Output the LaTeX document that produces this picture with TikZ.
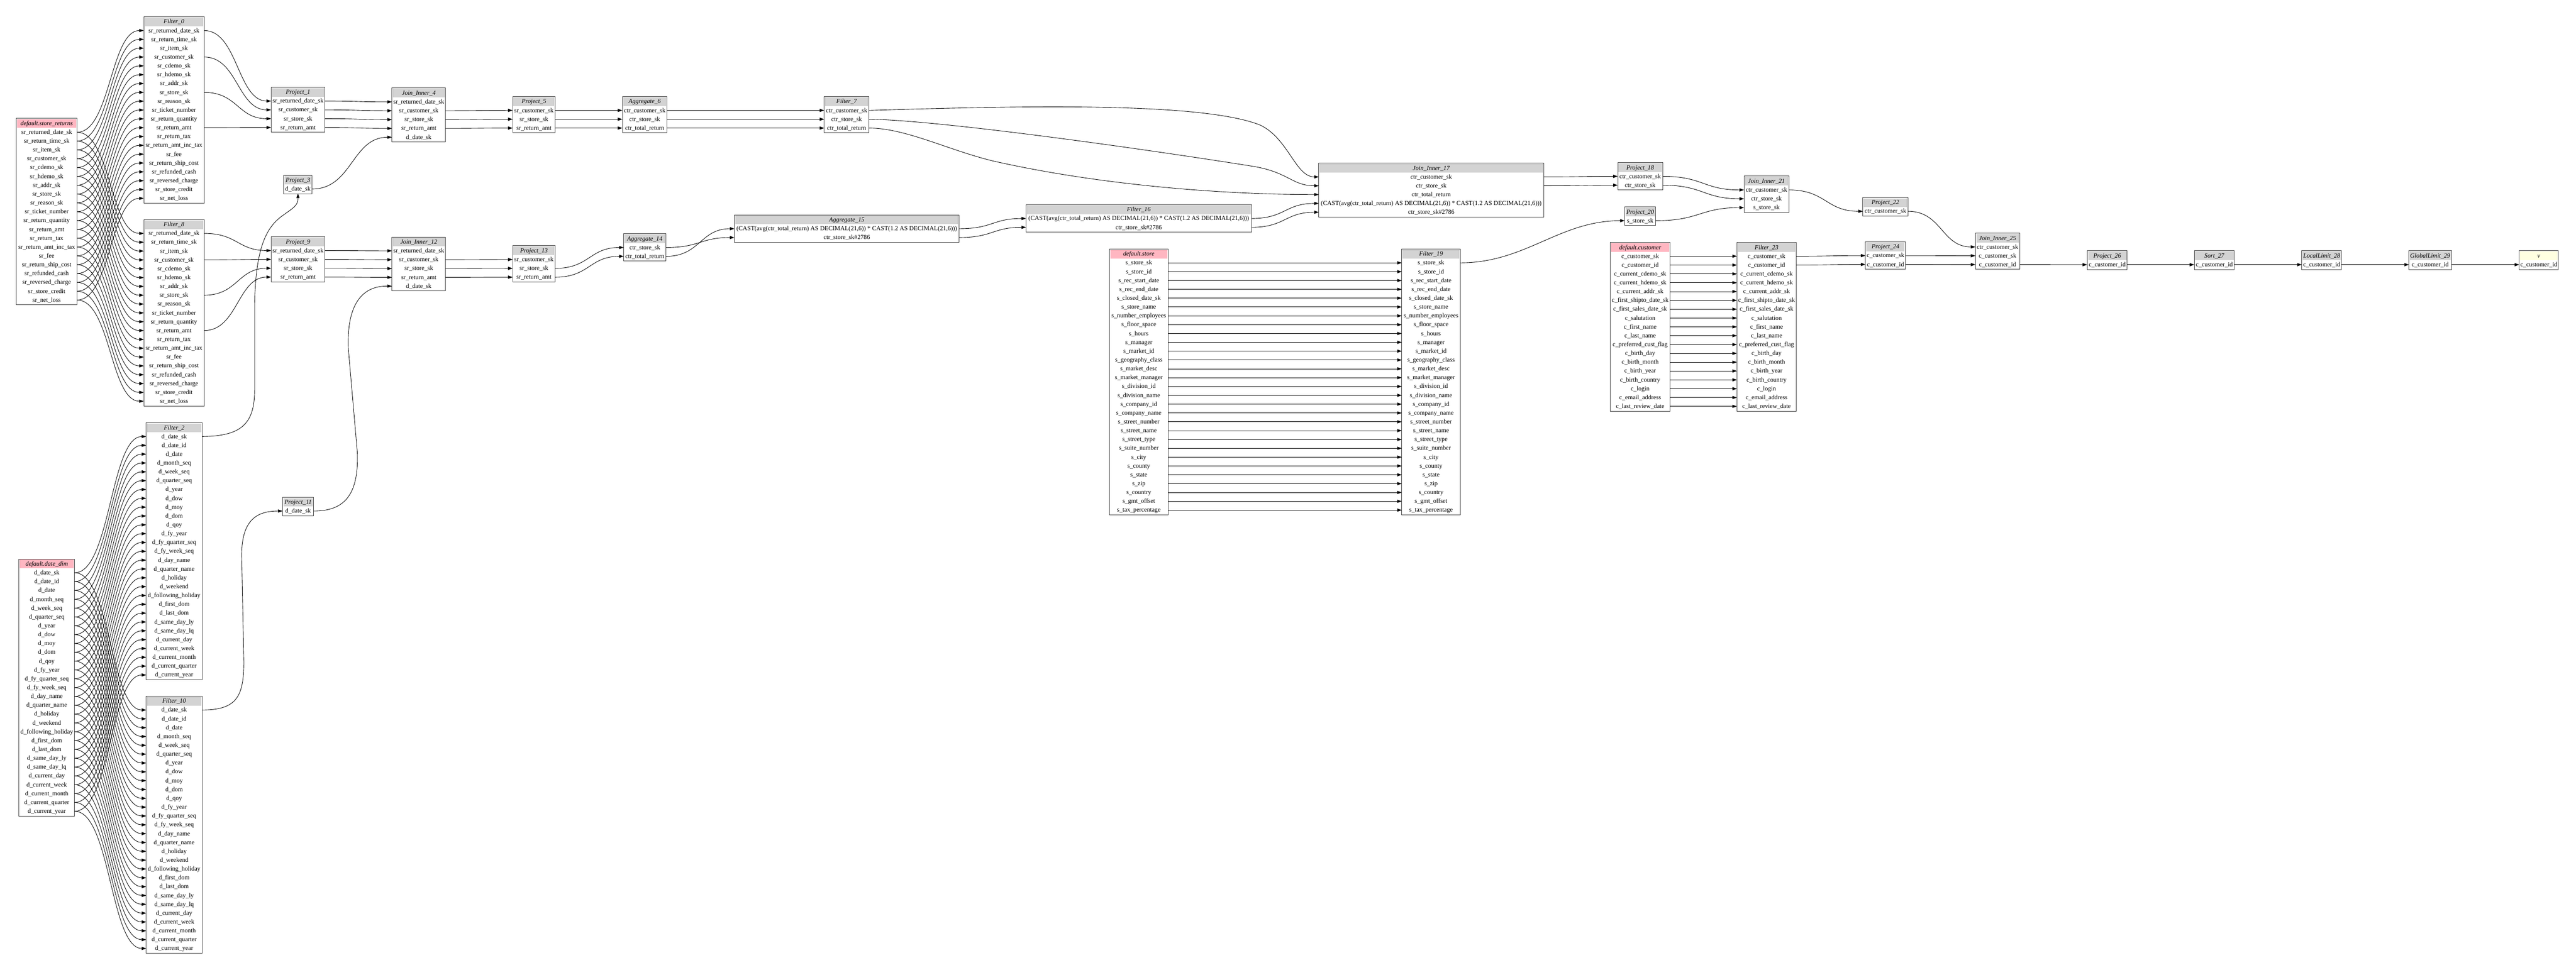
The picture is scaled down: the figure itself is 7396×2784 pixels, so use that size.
\documentclass[tikz,border=0pt]{standalone}
\usepackage{fontspec}
\setmainfont{Liberation Serif}
\usetikzlibrary{arrows.meta,calc}
\definecolor{hdgray}{HTML}{D3D3D3}
\definecolor{hdpink}{HTML}{FFB6C1}
\definecolor{hdyellow}{HTML}{FFFFE0}
\newcommand{\basefont}{\fontsize{18}{21}\selectfont}
\tikzset{
  rowcell/.style={inner sep=0pt, minimum height=25.36pt, font=\basefont, text height=13pt, text depth=2pt},
  headcell/.style={inner sep=0pt, minimum height=25pt, font=\basefont\itshape, text height=13pt, text depth=2pt},
  tblframe/.style={draw=black!75, line width=1.5pt},
  conn/.style={draw=black, line width=1.3pt, -{Triangle[length=13pt,width=9pt]}},
}
% #1 name, #2 left x, #3 top y, #4 width, #5 header fill, #6 title, #7 rows
\newcommand{\dbtable}[7]{%
  \foreach \rtext [count=\ri] in {#7} {%
    \node[rowcell, minimum width=#4pt] (#1-\ri) at ({#2+#4/2},{#3+39.7+(\ri-1)*25.36}) {\rtext};
    \xdef\nrows{\ri}%
  }%
  \node[headcell, minimum width=#4pt-4pt, fill=#5] (#1-h) at ({#2+#4/2},{#3+14.5}) {#6};
  \draw[tblframe] (#2,#3) rectangle ({#2+#4},{#3+28+\nrows*25.36});
}
\newcommand{\cedge}[3]{\draw[conn] (#1) .. controls +(#3,0) and +(-#3,0) .. (#2);}
\begin{document}
\catcode`\_=12
\begin{tikzpicture}[x=1pt,y=-1pt]
\fill[white] (0,0) rectangle (7396,2784);
\useasboundingbox (0,0) rectangle (7396,2784);

% ---------- source tables and filters ----------
\dbtable{sr}{47}{340}{174}{hdpink}{default.store_returns}{sr_returned_date_sk,sr_return_time_sk,sr_item_sk,sr_customer_sk,sr_cdemo_sk,sr_hdemo_sk,sr_addr_sk,sr_store_sk,sr_reason_sk,sr_ticket_number,sr_return_quantity,sr_return_amt,sr_return_tax,sr_return_amt_inc_tax,sr_fee,sr_return_ship_cost,sr_refunded_cash,sr_reversed_charge,sr_store_credit,sr_net_loss}
\dbtable{f0}{413}{48}{173}{hdgray}{Filter_0}{sr_returned_date_sk,sr_return_time_sk,sr_item_sk,sr_customer_sk,sr_cdemo_sk,sr_hdemo_sk,sr_addr_sk,sr_store_sk,sr_reason_sk,sr_ticket_number,sr_return_quantity,sr_return_amt,sr_return_tax,sr_return_amt_inc_tax,sr_fee,sr_return_ship_cost,sr_refunded_cash,sr_reversed_charge,sr_store_credit,sr_net_loss}
\dbtable{f8}{413}{630.5}{173}{hdgray}{Filter_8}{sr_returned_date_sk,sr_return_time_sk,sr_item_sk,sr_customer_sk,sr_cdemo_sk,sr_hdemo_sk,sr_addr_sk,sr_store_sk,sr_reason_sk,sr_ticket_number,sr_return_quantity,sr_return_amt,sr_return_tax,sr_return_amt_inc_tax,sr_fee,sr_return_ship_cost,sr_refunded_cash,sr_reversed_charge,sr_store_credit,sr_net_loss}
\dbtable{dd}{54.6}{1605}{159.4}{hdpink}{default.date_dim}{d_date_sk,d_date_id,d_date,d_month_seq,d_week_seq,d_quarter_seq,d_year,d_dow,d_moy,d_dom,d_qoy,d_fy_year,d_fy_quarter_seq,d_fy_week_seq,d_day_name,d_quarter_name,d_holiday,d_weekend,d_following_holiday,d_first_dom,d_last_dom,d_same_day_ly,d_same_day_lq,d_current_day,d_current_week,d_current_month,d_current_quarter,d_current_year}
\dbtable{f2}{420}{1213.7}{160}{hdgray}{Filter_2}{d_date_sk,d_date_id,d_date,d_month_seq,d_week_seq,d_quarter_seq,d_year,d_dow,d_moy,d_dom,d_qoy,d_fy_year,d_fy_quarter_seq,d_fy_week_seq,d_day_name,d_quarter_name,d_holiday,d_weekend,d_following_holiday,d_first_dom,d_last_dom,d_same_day_ly,d_same_day_lq,d_current_day,d_current_week,d_current_month,d_current_quarter,d_current_year}
\dbtable{f10}{420}{1999}{160}{hdgray}{Filter_10}{d_date_sk,d_date_id,d_date,d_month_seq,d_week_seq,d_quarter_seq,d_year,d_dow,d_moy,d_dom,d_qoy,d_fy_year,d_fy_quarter_seq,d_fy_week_seq,d_day_name,d_quarter_name,d_holiday,d_weekend,d_following_holiday,d_first_dom,d_last_dom,d_same_day_ly,d_same_day_lq,d_current_day,d_current_week,d_current_month,d_current_quarter,d_current_year}
\dbtable{st}{3185.8}{715}{167.6}{hdpink}{default.store}{s_store_sk,s_store_id,s_rec_start_date,s_rec_end_date,s_closed_date_sk,s_store_name,s_number_employees,s_floor_space,s_hours,s_manager,s_market_id,s_geography_class,s_market_desc,s_market_manager,s_division_id,s_division_name,s_company_id,s_company_name,s_street_number,s_street_name,s_street_type,s_suite_number,s_city,s_county,s_state,s_zip,s_country,s_gmt_offset,s_tax_percentage}
\dbtable{f19}{4024.8}{715}{167.6}{hdgray}{Filter_19}{s_store_sk,s_store_id,s_rec_start_date,s_rec_end_date,s_closed_date_sk,s_store_name,s_number_employees,s_floor_space,s_hours,s_manager,s_market_id,s_geography_class,s_market_desc,s_market_manager,s_division_id,s_division_name,s_company_id,s_company_name,s_street_number,s_street_name,s_street_type,s_suite_number,s_city,s_county,s_state,s_zip,s_country,s_gmt_offset,s_tax_percentage}
\dbtable{cu}{4623.5}{696}{171}{hdpink}{default.customer}{c_customer_sk,c_customer_id,c_current_cdemo_sk,c_current_hdemo_sk,c_current_addr_sk,c_first_shipto_date_sk,c_first_sales_date_sk,c_salutation,c_first_name,c_last_name,c_preferred_cust_flag,c_birth_day,c_birth_month,c_birth_year,c_birth_country,c_login,c_email_address,c_last_review_date}
\dbtable{f23}{4987}{696}{170}{hdgray}{Filter_23}{c_customer_sk,c_customer_id,c_current_cdemo_sk,c_current_hdemo_sk,c_current_addr_sk,c_first_shipto_date_sk,c_first_sales_date_sk,c_salutation,c_first_name,c_last_name,c_preferred_cust_flag,c_birth_day,c_birth_month,c_birth_year,c_birth_country,c_login,c_email_address,c_last_review_date}

% ---------- operators ----------
\dbtable{p1}{778.5}{250.4}{154.5}{hdgray}{Project_1}{sr_returned_date_sk,sr_customer_sk,sr_store_sk,sr_return_amt}
\dbtable{p3}{815}{503}{81}{hdgray}{Project_3}{d_date_sk}
\dbtable{p9}{778.5}{679.8}{154.5}{hdgray}{Project_9}{sr_returned_date_sk,sr_customer_sk,sr_store_sk,sr_return_amt}
\dbtable{p11}{811.3}{1427.7}{89.3}{hdgray}{Project_11}{d_date_sk}
\dbtable{j4}{1125.4}{252.9}{154}{hdgray}{Join_Inner_4}{sr_returned_date_sk,sr_customer_sk,sr_store_sk,sr_return_amt,d_date_sk}
\dbtable{j12}{1125.4}{680.6}{154}{hdgray}{Join_Inner_12}{sr_returned_date_sk,sr_customer_sk,sr_store_sk,sr_return_amt,d_date_sk}
\dbtable{p5}{1472}{277.3}{122}{hdgray}{Project_5}{sr_customer_sk,sr_store_sk,sr_return_amt}
\dbtable{p13}{1472}{705.5}{122}{hdgray}{Project_13}{sr_customer_sk,sr_store_sk,sr_return_amt}
\dbtable{a6}{1787}{277.3}{128}{hdgray}{Aggregate_6}{ctr_customer_sk,ctr_store_sk,ctr_total_return}
\dbtable{f7}{2366.6}{277.3}{128.4}{hdgray}{Filter_7}{ctr_customer_sk,ctr_store_sk,ctr_total_return}
\dbtable{a14}{1790.7}{671}{121.3}{hdgray}{Aggregate_14}{ctr_store_sk,ctr_total_return}
\dbtable{a15}{2108.6}{617}{645.4}{hdgray}{Aggregate_15}{{(CAST(avg(ctr_total_return) AS DECIMAL(21,6)) * CAST(1.2 AS DECIMAL(21,6)))},ctr_store_sk\#2786}
\dbtable{f16}{2946}{587.7}{647}{hdgray}{Filter_16}{{(CAST(avg(ctr_total_return) AS DECIMAL(21,6)) * CAST(1.2 AS DECIMAL(21,6)))},ctr_store_sk\#2786}
\dbtable{j17}{3786.5}{468.3}{645.5}{hdgray}{Join_Inner_17}{ctr_customer_sk,ctr_store_sk,ctr_total_return,{(CAST(avg(ctr_total_return) AS DECIMAL(21,6)) * CAST(1.2 AS DECIMAL(21,6)))},ctr_store_sk\#2786}
\dbtable{p18}{4644.8}{466.7}{128.6}{hdgray}{Project_18}{ctr_customer_sk,ctr_store_sk}
\dbtable{p20}{4664.7}{594}{88.8}{hdgray}{Project_20}{s_store_sk}
\dbtable{j21}{5007.5}{505.7}{128.5}{hdgray}{Join_Inner_21}{ctr_customer_sk,ctr_store_sk,s_store_sk}
\dbtable{p22}{5348.7}{567}{129.3}{hdgray}{Project_22}{ctr_customer_sk}
\dbtable{p24}{5356}{694.3}{115}{hdgray}{Project_24}{c_customer_sk,c_customer_id}
\dbtable{j25}{5671.7}{669.3}{127}{hdgray}{Join_Inner_25}{ctr_customer_sk,c_customer_sk,c_customer_id}
\dbtable{p26}{5992.5}{720.3}{115}{hdgray}{Project_26}{c_customer_id}
\dbtable{s27}{6300}{720.3}{115}{hdgray}{Sort_27}{c_customer_id}
\dbtable{l28}{6608.8}{720.3}{114}{hdgray}{LocalLimit_28}{c_customer_id}
\dbtable{g29}{6916.3}{720.3}{121.7}{hdgray}{GlobalLimit_29}{c_customer_id}
\dbtable{v}{7233}{720.3}{112.5}{hdyellow}{v}{c_customer_id}

% ---------- bundles ----------
\foreach \i in {1,...,20} {
  \draw[conn] (sr-\i.east) .. controls +(96,0) and +(-96,0) .. (f0-\i.west);
  \draw[conn] (sr-\i.east) .. controls +(96,0) and +(-96,0) .. (f8-\i.west);
}
\foreach \i in {1,...,28} {
  \draw[conn] (dd-\i.east) .. controls +(103,0) and +(-103,0) .. (f2-\i.west);
  \draw[conn] (dd-\i.east) .. controls +(103,0) and +(-103,0) .. (f10-\i.west);
}
\foreach \i in {1,...,29} {\draw[conn] (st-\i.east) -- (f19-\i.west);}
\foreach \i in {1,...,18} {\draw[conn] (cu-\i.east) -- (f23-\i.west);}

% ---------- store_returns branch ----------
\cedge{f0-1.east}{p1-1.west}{96}
\cedge{f0-4.east}{p1-2.west}{96}
\cedge{f0-8.east}{p1-3.west}{96}
\cedge{f0-12.east}{p1-4.west}{96}
\cedge{f8-1.east}{p9-1.west}{96}
\cedge{f8-4.east}{p9-2.west}{96}
\cedge{f8-8.east}{p9-3.west}{96}
\cedge{f8-12.east}{p9-4.west}{96}
\foreach \i in {1,...,4} {
  \cedge{p1-\i.east}{j4-\i.west}{96}
  \cedge{p9-\i.east}{j12-\i.west}{96}
}
\foreach \i/\k in {2/1,3/2,4/3} {
  \cedge{j4-\i.east}{p5-\k.west}{96}
  \cedge{j12-\i.east}{p13-\k.west}{96}
}
\foreach \i in {1,2,3} {
  \cedge{p5-\i.east}{a6-\i.west}{96}
  \cedge{a6-\i.east}{f7-\i.west}{225}
}
\cedge{p13-2.east}{a14-1.west}{98}
\cedge{p13-3.east}{a14-2.west}{98}
\cedge{a14-1.east}{a15-2.west}{98}
\cedge{a14-2.east}{a15-1.west}{98}
\cedge{a15-1.east}{f16-1.west}{96}
\cedge{a15-2.east}{f16-2.west}{96}
\cedge{f16-1.east}{j17-4.west}{97}
\cedge{f16-2.east}{j17-5.west}{97}

% date branches
\draw[conn] (f2-1.east) .. controls (690,1252.4) and (731,1220) .. (731,1120)
  -- (731,880) .. controls (733,700) and (770,650) .. (810,620)
  .. controls (845,595) and (p3-1.south |- 0,590) .. (p3-1.south);
\cedge{p3-1.east}{j4-5.west}{115}
\draw[conn] (f10-1.east) .. controls (680,2038.7) and (700,2000) .. (700,1900)
  -- (694,1600) .. controls (692,1490) and (740,1467.4) .. (p11-1.west);
\draw[conn] (p11-1.east) .. controls (990,1467.4) and (1030,1420) .. (1026,1300)
  -- (1000,1000) .. controls (995,860) and (1050,820.6) .. (j12-5.west);

% Filter_7 to Join_Inner_17
\draw[conn] (f7-1.east) .. controls (2900,305) and (3450,290) .. (3620,360)
  .. controls (3700,400) and (3720,508) .. (j17-1.west);
\draw[conn] (f7-2.east) .. controls (2700,345) and (3300,430) .. (3600,478)
  .. controls (3700,495) and (3710,533.4) .. (j17-2.west);
\draw[conn] (f7-3.east) .. controls (2600,368) and (2720,430) .. (2850,462)
  .. controls (3150,530) and (3500,558.7) .. (j17-3.west);

% right part
\cedge{j17-1.east}{p18-1.west}{106}
\cedge{j17-2.east}{p18-2.west}{106}
\cedge{p18-1.east}{j21-1.west}{117}
\cedge{p18-2.east}{j21-2.west}{117}
\cedge{f19-1.east}{p20-1.west}{188}
\cedge{p20-1.east}{j21-3.west}{127}
\cedge{j21-1.east}{p22-1.west}{106}
\cedge{p22-1.east}{j25-1.west}{97}
\cedge{f23-1.east}{p24-1.west}{100}
\cedge{f23-2.east}{p24-2.west}{100}
\cedge{p24-1.east}{j25-2.west}{100}
\cedge{p24-2.east}{j25-3.west}{100}
\cedge{j25-3.east}{p26-1.west}{97}
\cedge{p26-1.east}{s27-1.west}{96}
\cedge{s27-1.east}{l28-1.west}{97}
\cedge{l28-1.east}{g29-1.west}{97}
\cedge{g29-1.east}{v-1.west}{97}
\end{tikzpicture}
\end{document}
